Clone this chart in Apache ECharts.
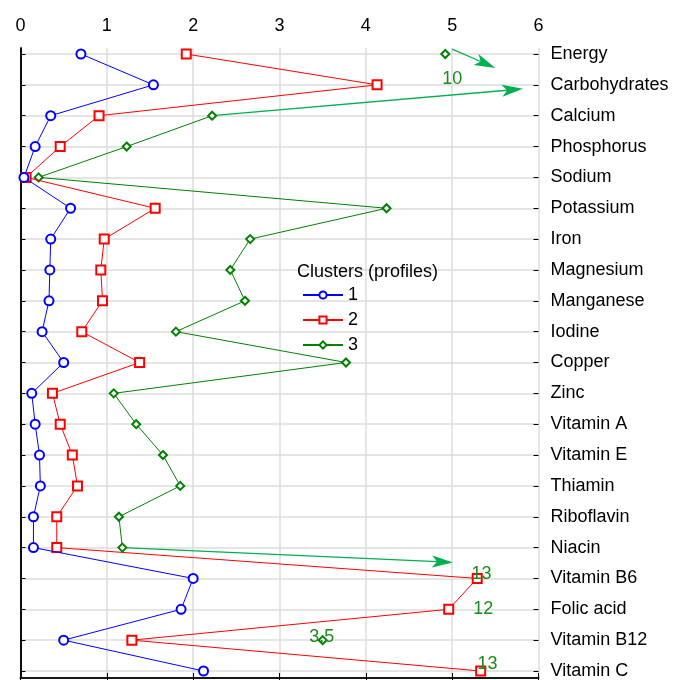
<!DOCTYPE html>
<html>
<head>
<meta charset="utf-8">
<script src="https://cdn.jsdelivr.net/npm/echarts@6/dist/echarts.min.js"></script>
<style>
  html, body { margin: 0; padding: 0; background: #fff; }
  #chart { width: 678px; height: 680px; }
</style>
</head>
<body>
<div id="chart"></div>
<script>
// Nutrient rows, top to bottom
const nutrients = [
  'Energy', 'Carbohydrates', 'Calcium', 'Phosphorus', 'Sodium', 'Potassium',
  'Iron', 'Magnesium', 'Manganese', 'Iodine', 'Copper', 'Zinc',
  'Vitamin A', 'Vitamin E', 'Thiamin', 'Riboflavin', 'Niacin',
  'Vitamin B6', 'Folic acid', 'Vitamin B12', 'Vitamin C'
];

// Cluster profiles (mean values per nutrient)
const cluster1 = [0.70, 1.54, 0.35, 0.17, 0.04, 0.58, 0.35, 0.34, 0.33, 0.25, 0.50,
                  0.13, 0.17, 0.22, 0.23, 0.15, 0.15, 2.00, 1.86, 0.50, 2.12];
const cluster2 = [1.92, 4.13, 0.91, 0.46, 0.065, 1.56, 0.97, 0.93, 0.95, 0.71, 1.38,
                  0.37, 0.46, 0.60, 0.66, 0.42, 0.42, 5.29, 4.96, 1.29, 5.33];
const cluster3 = [4.92, 10, 2.22, 1.23, 0.21, 4.24, 2.66, 2.43, 2.60, 1.80, 3.77,
                  1.08, 1.34, 1.65, 1.85, 1.14, 1.18, 13, 12, 3.5, 13];

const valueTicks = [0, 1, 2, 3, 4, 5, 6];
const clusterNames = ['1', '2', '3'];
const legendTitle = 'Clusters (profiles)';

// Layout and styling
const X_MIN = valueTicks[0];
const X_MAX = valueTicks[valueTicks.length - 1];
const FONT = '"Liberation Sans", Arial, sans-serif';
const NOTE_COLOR = '#1a8c1a';
const ARROW_COLOR = '#00b050';
const GRID_COLOR = '#dcdcdc';

// Where cluster 3 values are written beside the plot lines, [x, row] in axis units
const noteAt = {
  1:  [5.00, 0.80],
  17: [5.34, 16.86],
  18: [5.36, 18.00],
  19: [3.49, 18.90],
  20: [5.41, 19.77]
};

// Arrows pointing toward cluster 3 values beyond the axis, [x, row] in axis units
const arrowPaths = [
  [[5.00, -0.16], [5.50, 0.45]],
  [[cluster3[2], 2], [5.82, 1.13]],
  [[cluster3[16], 16], [5.01, 16.48]]
];

const rowPoints = vals => vals.map((v, i) => [v, i]);
// values past the axis end leave a gap in the line
const inRange = vals => vals.map((v, i) => [v > X_MAX ? null : v, i]);

// Line with a notched arrow head, endpoints taken through the axes
function renderArrow(params, api) {
  const p0 = api.coord([api.value(0), api.value(1)]);
  const p1 = api.coord([api.value(2), api.value(3)]);
  const dx = p1[0] - p0[0], dy = p1[1] - p0[1];
  const len = Math.hypot(dx, dy) || 1;
  const ux = dx / len, uy = dy / len;
  const nx = -uy, ny = ux;
  const headLen = 21, halfW = 6, notch = 16;
  const back = [p1[0] - ux * headLen, p1[1] - uy * headLen];
  const mid = [p1[0] - ux * notch, p1[1] - uy * notch];
  return {
    type: 'group',
    children: [
      {
        type: 'line',
        shape: { x1: p0[0], y1: p0[1], x2: mid[0], y2: mid[1] },
        style: { stroke: ARROW_COLOR, lineWidth: 1.3 }
      },
      {
        type: 'polygon',
        shape: { points: [p1, [back[0] + nx * halfW, back[1] + ny * halfW], mid, [back[0] - nx * halfW, back[1] - ny * halfW]] },
        style: { fill: ARROW_COLOR }
      }
    ]
  };
}

const chart = echarts.init(document.getElementById('chart'), null, { renderer: 'canvas' });

const rowAxis = {
  gridIndex: 0, type: 'value', inverse: true, min: 0, max: nutrients.length - 1, interval: 1,
  axisLine: { show: false },
  axisTick: { show: true, inside: true, length: 5, lineStyle: { color: '#000' } }
};

const option = {
  animation: false,
  textStyle: { fontFamily: FONT },
  title: {
    text: legendTitle, left: 292, top: 258,
    textStyle: { fontSize: 18, fontWeight: 'normal', color: '#000', fontFamily: FONT }
  },
  legend: {
    orient: 'vertical', left: 297, top: 281,
    itemWidth: 40, itemHeight: 9, itemGap: 7,
    textStyle: { fontSize: 18, color: '#000', fontFamily: FONT },
    data: clusterNames
  },
  grid: [
    { left: 20.5, right: 139.5, top: 54, bottom: 7 },
    { left: 20.5, right: 139.5, top: 48, bottom: 2 }
  ],
  xAxis: [
    { gridIndex: 0, type: 'value', min: X_MIN, max: X_MAX, show: false },
    {
      gridIndex: 1, type: 'value', min: X_MIN, max: X_MAX, interval: 1, position: 'top',
      axisLine: { show: true, lineStyle: { color: '#606060', width: 2 } },
      axisTick: { show: true, inside: true, length: 5, lineStyle: { color: '#000' } },
      axisLabel: { margin: 13, fontSize: 18, color: '#000', fontFamily: FONT },
      splitLine: { show: true, lineStyle: { color: GRID_COLOR, width: 1.5 } }
    },
    {
      gridIndex: 1, type: 'value', min: X_MIN, max: X_MAX, interval: 1, position: 'bottom',
      axisLine: { show: true, lineStyle: { color: '#000', width: 1.5 } },
      axisTick: { show: true, inside: true, length: 5, lineStyle: { color: '#000' } },
      axisLabel: { show: false },
      splitLine: { show: false }
    }
  ],
  yAxis: [
    Object.assign({}, rowAxis, {
      position: 'left',
      axisLabel: { show: false },
      splitLine: { show: true, lineStyle: { color: GRID_COLOR, width: 1.5 } }
    }),
    Object.assign({}, rowAxis, {
      position: 'right',
      axisLabel: {
        margin: 12, fontSize: 18, color: '#000', fontFamily: FONT,
        formatter: v => nutrients[v] || ''
      },
      splitLine: { show: false }
    }),
    {
      gridIndex: 1, type: 'value', min: 0, max: 1, position: 'left',
      axisLine: { show: true, lineStyle: { color: '#000', width: 1.5 } },
      axisTick: { show: false }, axisLabel: { show: false }, splitLine: { show: false }
    },
    {
      gridIndex: 1, type: 'value', min: 0, max: 1, position: 'right',
      axisLine: { show: true, lineStyle: { color: '#000', width: 1.5 } },
      axisTick: { show: false }, axisLabel: { show: false }, splitLine: { show: false }
    }
  ],
  series: [
    {
      name: clusterNames[0], type: 'line', xAxisIndex: 0, yAxisIndex: 0,
      data: rowPoints(cluster1),
      symbol: 'emptyCircle', symbolSize: 9,
      lineStyle: { color: '#0000ff', width: 1 },
      itemStyle: { color: '#0000ff', borderWidth: 2 },
      z: 4
    },
    {
      name: clusterNames[1], type: 'line', xAxisIndex: 0, yAxisIndex: 0,
      data: rowPoints(cluster2),
      symbol: 'emptyRect', symbolSize: 9,
      lineStyle: { color: '#ff0000', width: 1 },
      itemStyle: { color: '#ff0000', borderWidth: 2 },
      z: 3
    },
    {
      name: clusterNames[2], type: 'line', xAxisIndex: 0, yAxisIndex: 0,
      data: inRange(cluster3),
      connectNulls: false, clip: false,
      symbol: 'emptyDiamond', symbolSize: 8,
      lineStyle: { color: '#008000', width: 1 },
      itemStyle: { color: '#008000', borderWidth: 2 },
      z: 2,
      markPoint: {
        silent: true, animation: false,
        symbol: 'circle', symbolSize: 1,
        itemStyle: { color: 'rgba(0,0,0,0)' },
        label: { show: true, position: 'inside', color: NOTE_COLOR, fontSize: 18, fontFamily: FONT, formatter: '{c}' },
        data: Object.keys(noteAt).map(i => ({ coord: noteAt[i], value: cluster3[i] }))
      }
    },
    {
      type: 'custom', xAxisIndex: 0, yAxisIndex: 0, silent: true, z: 2,
      data: arrowPaths.map(([a, b]) => [a[0], a[1], b[0], b[1]]),
      encode: { x: [0, 2], y: [1, 3] },
      renderItem: renderArrow
    }
  ]
};

chart.setOption(option);
</script>
</body>
</html>
